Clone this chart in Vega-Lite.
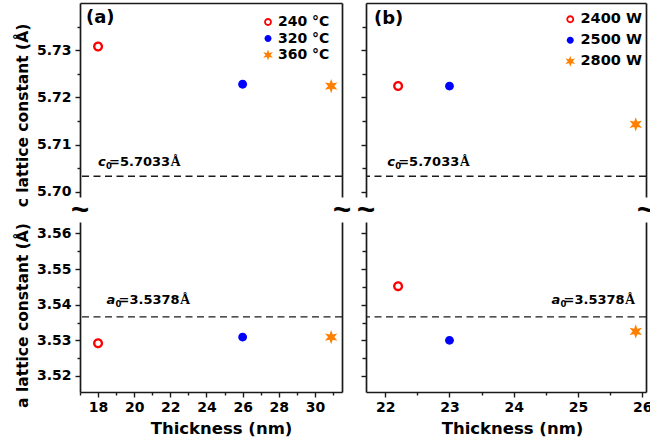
{
  "$schema": "https://vega.github.io/schema/vega-lite/v6.json",
  "background": "white",
  "padding": {"left": 15, "top": 3, "right": 0, "bottom": 0},
  "config": {
    "font": "DejaVu Sans",
    "view": {"stroke": null},
    "axis": {"grid": false, "labelFont": "DejaVu Sans", "labelFontWeight": "bold", "labelFontSize": 14, "labelColor": "#000", "titleFont": "DejaVu Sans", "titleFontWeight": "bold", "titleColor": "#000", "domainColor": "#1a1a1a", "domainWidth": 1.7, "tickColor": "#1a1a1a", "tickWidth": 1.4},
    "legend": {"title": null, "labelFont": "DejaVu Sans", "labelFontWeight": "bold", "labelColor": "#000", "symbolSize": 125, "symbolStrokeWidth": 0, "padding": 0}
  },
  "datasets": {
    "pts": [
      {"panel": "a", "series": "240 °C", "thickness": 18, "c": 5.7308, "a": 3.5292},
      {"panel": "a", "series": "320 °C", "thickness": 26, "c": 5.7228, "a": 3.5309},
      {"panel": "a", "series": "360 °C", "thickness": 30.9, "c": 5.7224, "a": 3.5309},
      {"panel": "b", "series": "2400 W", "thickness": 22.2, "c": 5.7224, "a": 3.5452},
      {"panel": "b", "series": "2500 W", "thickness": 23, "c": 5.7224, "a": 3.53},
      {"panel": "b", "series": "2800 W", "thickness": 25.9, "c": 5.7143, "a": 3.5325}
    ],
    "refs": [
      {"param": "c", "value": 5.7033},
      {"param": "a", "value": 3.5366}
    ],
    "one": [{}]
  },
  "columns": 2,
  "bounds": "flush",
  "spacing": {"row": 25, "column": 24},
  "resolve": {"scale": {"color": "independent", "shape": "independent", "x": "independent", "y": "independent"}},
  "concat": [
    {
      "width": 262, "height": 194,
      "resolve": {"axis": {"x": "independent", "y": "independent"}},
      "layer": [
        {
          "data": {"name": "pts"},
          "transform": [{"filter": "datum.panel === 'a'"}],
          "mark": {"type": "point", "filled": true, "opacity": 1, "size": 205, "strokeWidth": 0},
          "encoding": {
            "x": {"field": "thickness", "type": "quantitative", "scale": {"domain": [17, 31.5], "nice": false, "zero": false}, "axis": {"orient": "top", "labels": false, "ticks": false, "domain": true, "title": null}},
            "y": {"field": "c", "type": "quantitative", "scale": {"domain": [5.6989, 5.74], "nice": false, "zero": false}, "axis": {"orient": "left", "values": [5.7, 5.71, 5.72, 5.73], "format": ".2f", "tickSize": 5, "labelPadding": 4, "title": "c lattice constant (Å)", "titleFontSize": 15.5, "titlePadding": 6, "minExtent": 44, "maxExtent": 44, "titleY": 112}},
            "color": {"field": "series", "type": "nominal", "scale": {"domain": ["240 °C", "320 °C", "360 °C"], "range": ["#ff0000", "#0000ff", "#ff8000"]}, "legend": {"orient": "none", "legendX": 181, "legendY": 12, "labelFontSize": 14, "rowPadding": 2.5, "labelOffset": 3}},
            "shape": {"field": "series", "type": "nominal", "scale": {"domain": ["240 °C", "320 °C", "360 °C"], "range": ["M0.7,0A0.7,0.7 0 1,0 -0.7,0A0.7,0.7 0 1,0 0.7,0ZM0.38,0A0.38,0.38 0 1,1 -0.38,0A0.38,0.38 0 1,1 0.38,0Z", "M0.62,0A0.62,0.62 0 1,0 -0.62,0A0.62,0.62 0 1,0 0.62,0Z", "M0,-1L0.22,-0.38L0.866,-0.5L0.44,0L0.866,0.5L0.22,0.38L0,1L-0.22,0.38L-0.866,0.5L-0.44,0L-0.866,-0.5L-0.22,-0.38Z"]}, "legend": {"orient": "none", "legendX": 181, "legendY": 12, "labelFontSize": 14, "rowPadding": 2.5, "labelOffset": 3}}
          }
        },
        {
          "data": {"name": "refs"},
          "transform": [{"filter": "datum.param === 'c'"}],
          "mark": {"type": "rule", "strokeDash": [7, 4.5], "strokeWidth": 1.3, "color": "#1a1a1a"},
          "encoding": {"y": {"field": "value", "type": "quantitative", "scale": {"domain": [5.6989, 5.74], "nice": false, "zero": false}, "axis": {"orient": "left", "values": [5.705, 5.715, 5.725, 5.735], "labels": false, "tickSize": 3, "domain": false, "title": null}}}
        },
        {
          "data": {"name": "one"},
          "mark": {"type": "text", "text": "~", "font": "Liberation Sans", "fontWeight": "bold", "fontSize": 31, "align": "center", "baseline": "middle", "dy": 14, "color": "#000"},
          "encoding": {"x": {"datum": 17, "type": "quantitative", "axis": null}, "y": {"datum": 5.6989, "type": "quantitative", "axis": {"orient": "right", "labels": false, "ticks": false, "domain": true, "title": null}}}
        },
        {
          "data": {"name": "one"},
          "mark": {"type": "text", "text": "~", "font": "Liberation Sans", "fontWeight": "bold", "fontSize": 31, "align": "center", "baseline": "middle", "dy": 14, "color": "#000"},
          "encoding": {"x": {"datum": 31.5, "type": "quantitative", "axis": null}, "y": {"datum": 5.6989, "type": "quantitative", "axis": null}}
        },
        {
          "data": {"name": "one"},
          "mark": {"type": "text", "text": "(a)", "fontWeight": "bold", "fontSize": 18, "align": "left", "baseline": "middle", "dx": 6, "dy": 15, "color": "#000"},
          "encoding": {"x": {"datum": 17, "type": "quantitative", "axis": null}, "y": {"datum": 5.74, "type": "quantitative", "axis": null}}
        },
        {
          "data": {"name": "one"},
          "mark": {"type": "text", "text": "c", "fontStyle": "italic", "fontWeight": "bold", "fontSize": 13, "align": "left", "baseline": "alphabetic", "color": "#000"},
          "encoding": {"x": {"datum": 18, "type": "quantitative", "axis": null}, "y": {"datum": 5.7055, "type": "quantitative", "axis": null}}
        },
        {
          "data": {"name": "one"},
          "mark": {"type": "text", "text": "0", "fontWeight": "bold", "fontSize": 8.5, "align": "left", "baseline": "alphabetic", "dx": 8, "dy": 3, "color": "#000"},
          "encoding": {"x": {"datum": 18, "type": "quantitative", "axis": null}, "y": {"datum": 5.7055, "type": "quantitative", "axis": null}}
        },
        {
          "data": {"name": "one"},
          "mark": {"type": "text", "text": "=5.7033", "fontWeight": "bold", "fontSize": 13, "align": "left", "baseline": "alphabetic", "dx": 11, "color": "#000"},
          "encoding": {"x": {"datum": 18, "type": "quantitative", "axis": null}, "y": {"datum": 5.7055, "type": "quantitative", "axis": null}}
        },
        {
          "data": {"name": "one"},
          "mark": {"type": "text", "text": "Å", "font": "Liberation Serif", "fontWeight": "bold", "fontSize": 14, "align": "left", "baseline": "alphabetic", "dx": 72.5, "color": "#000"},
          "encoding": {"x": {"datum": 18, "type": "quantitative", "axis": null}, "y": {"datum": 5.7055, "type": "quantitative", "axis": null}}
        }
      ]
    },
    {
      "width": 280, "height": 194,
      "resolve": {"axis": {"x": "independent", "y": "independent"}},
      "layer": [
        {
          "data": {"name": "pts"},
          "transform": [{"filter": "datum.panel === 'b'"}],
          "mark": {"type": "point", "filled": true, "opacity": 1, "size": 205, "strokeWidth": 0},
          "encoding": {
            "x": {"field": "thickness", "type": "quantitative", "scale": {"domain": [21.7, 26.06], "nice": false, "zero": false}, "axis": {"orient": "top", "labels": false, "ticks": false, "domain": true, "title": null}},
            "y": {"field": "c", "type": "quantitative", "scale": {"domain": [5.6989, 5.74], "nice": false, "zero": false}, "axis": {"orient": "left", "values": [5.7, 5.71, 5.72, 5.73], "labels": false, "tickSize": 5, "title": null}},
            "color": {"field": "series", "type": "nominal", "scale": {"domain": ["2400 W", "2500 W", "2800 W"], "range": ["#ff0000", "#0000ff", "#ff8000"]}, "legend": {"orient": "none", "legendX": 197, "legendY": 9, "labelFontSize": 14.5, "rowPadding": 6, "labelOffset": 3}},
            "shape": {"field": "series", "type": "nominal", "scale": {"domain": ["2400 W", "2500 W", "2800 W"], "range": ["M0.7,0A0.7,0.7 0 1,0 -0.7,0A0.7,0.7 0 1,0 0.7,0ZM0.38,0A0.38,0.38 0 1,1 -0.38,0A0.38,0.38 0 1,1 0.38,0Z", "M0.62,0A0.62,0.62 0 1,0 -0.62,0A0.62,0.62 0 1,0 0.62,0Z", "M0,-1L0.22,-0.38L0.866,-0.5L0.44,0L0.866,0.5L0.22,0.38L0,1L-0.22,0.38L-0.866,0.5L-0.44,0L-0.866,-0.5L-0.22,-0.38Z"]}, "legend": {"orient": "none", "legendX": 197, "legendY": 9, "labelFontSize": 14.5, "rowPadding": 6, "labelOffset": 3}}
          }
        },
        {
          "data": {"name": "refs"},
          "transform": [{"filter": "datum.param === 'c'"}],
          "mark": {"type": "rule", "strokeDash": [7, 4.5], "strokeWidth": 1.3, "color": "#1a1a1a"},
          "encoding": {"y": {"field": "value", "type": "quantitative", "scale": {"domain": [5.6989, 5.74], "nice": false, "zero": false}, "axis": {"orient": "left", "values": [5.705, 5.715, 5.725, 5.735], "labels": false, "tickSize": 4, "domain": false, "title": null}}}
        },
        {
          "data": {"name": "one"},
          "mark": {"type": "text", "text": "~", "font": "Liberation Sans", "fontWeight": "bold", "fontSize": 31, "align": "center", "baseline": "middle", "dy": 14, "color": "#000"},
          "encoding": {"x": {"datum": 21.7, "type": "quantitative", "axis": null}, "y": {"datum": 5.6989, "type": "quantitative", "axis": {"orient": "right", "labels": false, "ticks": false, "domain": true, "title": null}}}
        },
        {
          "data": {"name": "one"},
          "mark": {"type": "text", "text": "~", "font": "Liberation Sans", "fontWeight": "bold", "fontSize": 31, "align": "center", "baseline": "middle", "dy": 14, "color": "#000"},
          "encoding": {"x": {"datum": 26.06, "type": "quantitative", "axis": null}, "y": {"datum": 5.6989, "type": "quantitative", "axis": null}}
        },
        {
          "data": {"name": "one"},
          "mark": {"type": "text", "text": "(b)", "fontWeight": "bold", "fontSize": 18, "align": "left", "baseline": "middle", "dx": 8, "dy": 16, "color": "#000"},
          "encoding": {"x": {"datum": 21.7, "type": "quantitative", "axis": null}, "y": {"datum": 5.74, "type": "quantitative", "axis": null}}
        },
        {
          "data": {"name": "one"},
          "mark": {"type": "text", "text": "c", "fontStyle": "italic", "fontWeight": "bold", "fontSize": 13, "align": "left", "baseline": "alphabetic", "color": "#000"},
          "encoding": {"x": {"datum": 22.03, "type": "quantitative", "axis": null}, "y": {"datum": 5.7055, "type": "quantitative", "axis": null}}
        },
        {
          "data": {"name": "one"},
          "mark": {"type": "text", "text": "0", "fontWeight": "bold", "fontSize": 8.5, "align": "left", "baseline": "alphabetic", "dx": 8, "dy": 3, "color": "#000"},
          "encoding": {"x": {"datum": 22.03, "type": "quantitative", "axis": null}, "y": {"datum": 5.7055, "type": "quantitative", "axis": null}}
        },
        {
          "data": {"name": "one"},
          "mark": {"type": "text", "text": "=5.7033", "fontWeight": "bold", "fontSize": 13, "align": "left", "baseline": "alphabetic", "dx": 11, "color": "#000"},
          "encoding": {"x": {"datum": 22.03, "type": "quantitative", "axis": null}, "y": {"datum": 5.7055, "type": "quantitative", "axis": null}}
        },
        {
          "data": {"name": "one"},
          "mark": {"type": "text", "text": "Å", "font": "Liberation Serif", "fontWeight": "bold", "fontSize": 14, "align": "left", "baseline": "alphabetic", "dx": 72.5, "color": "#000"},
          "encoding": {"x": {"datum": 22.03, "type": "quantitative", "axis": null}, "y": {"datum": 5.7055, "type": "quantitative", "axis": null}}
        }
      ]
    },
    {
      "width": 262, "height": 170,
      "resolve": {"axis": {"x": "independent", "y": "independent"}},
      "layer": [
        {
          "data": {"name": "pts"},
          "transform": [{"filter": "datum.panel === 'a'"}],
          "mark": {"type": "point", "filled": true, "opacity": 1, "size": 205, "strokeWidth": 0},
          "encoding": {
            "x": {"field": "thickness", "type": "quantitative", "scale": {"domain": [17, 31.5], "nice": false, "zero": false}, "axis": {"orient": "bottom", "values": [18, 20, 22, 24, 26, 28, 30], "format": "d", "tickSize": 5, "labelPadding": 3, "title": "Thickness (nm)", "titleFontSize": 16.5, "titlePadding": 6, "titleX": 141}},
            "y": {"field": "a", "type": "quantitative", "scale": {"domain": [3.5155, 3.5632], "nice": false, "zero": false}, "axis": {"orient": "left", "values": [3.52, 3.53, 3.54, 3.55, 3.56], "format": ".2f", "tickSize": 5, "labelPadding": 4, "title": "a lattice constant (Å)", "titleFontSize": 15.5, "titlePadding": 6, "minExtent": 44, "maxExtent": 44, "titleY": 93}},
            "color": {"field": "series", "type": "nominal", "scale": {"domain": ["240 °C", "320 °C", "360 °C"], "range": ["#ff0000", "#0000ff", "#ff8000"]}, "legend": null},
            "shape": {"field": "series", "type": "nominal", "scale": {"domain": ["240 °C", "320 °C", "360 °C"], "range": ["M0.7,0A0.7,0.7 0 1,0 -0.7,0A0.7,0.7 0 1,0 0.7,0ZM0.38,0A0.38,0.38 0 1,1 -0.38,0A0.38,0.38 0 1,1 0.38,0Z", "M0.62,0A0.62,0.62 0 1,0 -0.62,0A0.62,0.62 0 1,0 0.62,0Z", "M0,-1L0.22,-0.38L0.866,-0.5L0.44,0L0.866,0.5L0.22,0.38L0,1L-0.22,0.38L-0.866,0.5L-0.44,0L-0.866,-0.5L-0.22,-0.38Z"]}, "legend": null}
          }
        },
        {
          "data": {"name": "refs"},
          "transform": [{"filter": "datum.param === 'a'"}],
          "mark": {"type": "rule", "strokeDash": [7, 4.5], "strokeWidth": 1.3, "color": "#1a1a1a"},
          "encoding": {"y": {"field": "value", "type": "quantitative", "scale": {"domain": [3.5155, 3.5632], "nice": false, "zero": false}, "axis": {"orient": "left", "values": [3.515, 3.525, 3.535, 3.545, 3.555], "labels": false, "tickSize": 3, "domain": false, "title": null}}}
        },
        {
          "data": {"name": "one"},
          "mark": {"type": "text", "text": "a", "fontStyle": "italic", "fontWeight": "bold", "fontSize": 13, "align": "left", "baseline": "alphabetic", "color": "#000"},
          "encoding": {"x": {"datum": 18.47, "type": "quantitative", "axis": {"orient": "bottom", "values": [17, 19, 21, 23, 25, 27, 29, 31], "labels": false, "tickSize": 3, "domain": false, "title": null}}, "y": {"datum": 3.5402, "type": "quantitative", "axis": {"orient": "right", "labels": false, "ticks": false, "domain": true, "title": null}}}
        },
        {
          "data": {"name": "one"},
          "mark": {"type": "text", "text": "0", "fontWeight": "bold", "fontSize": 8.5, "align": "left", "baseline": "alphabetic", "dx": 9, "dy": 3, "color": "#000"},
          "encoding": {"x": {"datum": 18.47, "type": "quantitative", "axis": null}, "y": {"datum": 3.5402, "type": "quantitative", "axis": null}}
        },
        {
          "data": {"name": "one"},
          "mark": {"type": "text", "text": "=3.5378", "fontWeight": "bold", "fontSize": 13, "align": "left", "baseline": "alphabetic", "dx": 12, "color": "#000"},
          "encoding": {"x": {"datum": 18.47, "type": "quantitative", "axis": null}, "y": {"datum": 3.5402, "type": "quantitative", "axis": null}}
        },
        {
          "data": {"name": "one"},
          "mark": {"type": "text", "text": "Å", "font": "Liberation Serif", "fontWeight": "bold", "fontSize": 14, "align": "left", "baseline": "alphabetic", "dx": 73.5, "color": "#000"},
          "encoding": {"x": {"datum": 18.47, "type": "quantitative", "axis": null}, "y": {"datum": 3.5402, "type": "quantitative", "axis": null}}
        }
      ]
    },
    {
      "width": 280, "height": 170,
      "resolve": {"axis": {"x": "independent", "y": "independent"}},
      "layer": [
        {
          "data": {"name": "pts"},
          "transform": [{"filter": "datum.panel === 'b'"}],
          "mark": {"type": "point", "filled": true, "opacity": 1, "size": 205, "strokeWidth": 0},
          "encoding": {
            "x": {"field": "thickness", "type": "quantitative", "scale": {"domain": [21.7, 26.06], "nice": false, "zero": false}, "axis": {"orient": "bottom", "values": [22, 23, 24, 25, 26], "format": "d", "tickSize": 5, "labelPadding": 3, "title": "Thickness (nm)", "titleFontSize": 16.5, "titlePadding": 6, "titleX": 146}},
            "y": {"field": "a", "type": "quantitative", "scale": {"domain": [3.5155, 3.5632], "nice": false, "zero": false}, "axis": {"orient": "left", "values": [3.52, 3.53, 3.54, 3.55, 3.56], "labels": false, "tickSize": 5, "title": null}},
            "color": {"field": "series", "type": "nominal", "scale": {"domain": ["2400 W", "2500 W", "2800 W"], "range": ["#ff0000", "#0000ff", "#ff8000"]}, "legend": null},
            "shape": {"field": "series", "type": "nominal", "scale": {"domain": ["2400 W", "2500 W", "2800 W"], "range": ["M0.7,0A0.7,0.7 0 1,0 -0.7,0A0.7,0.7 0 1,0 0.7,0ZM0.38,0A0.38,0.38 0 1,1 -0.38,0A0.38,0.38 0 1,1 0.38,0Z", "M0.62,0A0.62,0.62 0 1,0 -0.62,0A0.62,0.62 0 1,0 0.62,0Z", "M0,-1L0.22,-0.38L0.866,-0.5L0.44,0L0.866,0.5L0.22,0.38L0,1L-0.22,0.38L-0.866,0.5L-0.44,0L-0.866,-0.5L-0.22,-0.38Z"]}, "legend": null}
          }
        },
        {
          "data": {"name": "refs"},
          "transform": [{"filter": "datum.param === 'a'"}],
          "mark": {"type": "rule", "strokeDash": [7, 4.5], "strokeWidth": 1.3, "color": "#1a1a1a"},
          "encoding": {"y": {"field": "value", "type": "quantitative", "scale": {"domain": [3.5155, 3.5632], "nice": false, "zero": false}, "axis": {"orient": "left", "values": [3.515, 3.525, 3.535, 3.545, 3.555], "labels": false, "tickSize": 4, "domain": false, "title": null}}}
        },
        {
          "data": {"name": "one"},
          "mark": {"type": "text", "text": "a", "fontStyle": "italic", "fontWeight": "bold", "fontSize": 13, "align": "left", "baseline": "alphabetic", "color": "#000"},
          "encoding": {"x": {"datum": 24.59, "type": "quantitative", "axis": {"orient": "bottom", "values": [22.5, 23.5, 24.5, 25.5], "labels": false, "tickSize": 3, "domain": false, "title": null}}, "y": {"datum": 3.5402, "type": "quantitative", "axis": {"orient": "right", "labels": false, "ticks": false, "domain": true, "title": null}}}
        },
        {
          "data": {"name": "one"},
          "mark": {"type": "text", "text": "0", "fontWeight": "bold", "fontSize": 8.5, "align": "left", "baseline": "alphabetic", "dx": 9, "dy": 3, "color": "#000"},
          "encoding": {"x": {"datum": 24.59, "type": "quantitative", "axis": null}, "y": {"datum": 3.5402, "type": "quantitative", "axis": null}}
        },
        {
          "data": {"name": "one"},
          "mark": {"type": "text", "text": "=3.5378", "fontWeight": "bold", "fontSize": 13, "align": "left", "baseline": "alphabetic", "dx": 12, "color": "#000"},
          "encoding": {"x": {"datum": 24.59, "type": "quantitative", "axis": null}, "y": {"datum": 3.5402, "type": "quantitative", "axis": null}}
        },
        {
          "data": {"name": "one"},
          "mark": {"type": "text", "text": "Å", "font": "Liberation Serif", "fontWeight": "bold", "fontSize": 14, "align": "left", "baseline": "alphabetic", "dx": 73.5, "color": "#000"},
          "encoding": {"x": {"datum": 24.59, "type": "quantitative", "axis": null}, "y": {"datum": 3.5402, "type": "quantitative", "axis": null}}
        }
      ]
    }
  ]
}
